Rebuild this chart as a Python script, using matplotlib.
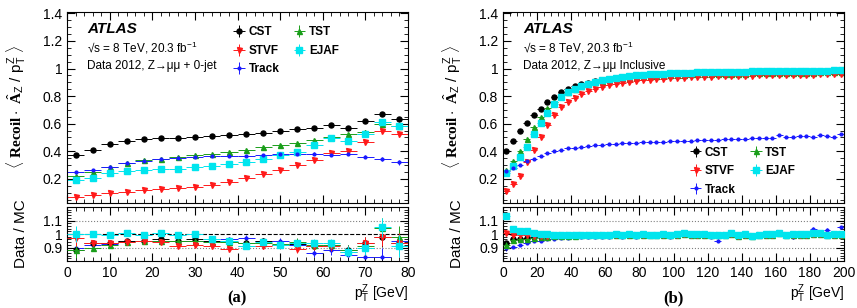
import numpy as np
import matplotlib.pyplot as plt
from matplotlib.ticker import MultipleLocator

plt.rcParams['font.family'] = ['Liberation Sans', 'DejaVu Sans']
plt.rcParams['mathtext.fontset'] = 'custom'
plt.rcParams['mathtext.rm'] = 'Liberation Sans'
plt.rcParams['mathtext.sf'] = 'Liberation Sans'
plt.rcParams['mathtext.it'] = 'Liberation Sans'
plt.rcParams['mathtext.bf'] = 'Liberation Serif:bold'

# ---- panel (a): Z->mumu + 0-jet, 4 GeV bins ----
pt_a = np.arange(2, 80, 4)
cst_a = [0.37, 0.41, 0.45, 0.475, 0.487, 0.497, 0.499, 0.505, 0.508, 0.516,
         0.528, 0.533, 0.546, 0.558, 0.57, 0.587, 0.57, 0.62, 0.67, 0.632]
tst_a = [0.22, 0.25, 0.285, 0.315, 0.335, 0.345, 0.358, 0.37, 0.382, 0.393,
         0.41, 0.428, 0.445, 0.46, 0.482, 0.503, 0.522, 0.54, 0.6, 0.585]
stvf_a = [0.067, 0.08, 0.096, 0.108, 0.116, 0.123, 0.133, 0.142, 0.159, 0.178,
          0.207, 0.236, 0.267, 0.299, 0.337, 0.39, 0.4, 0.465, 0.545, 0.522]
ejaf_a = [0.195, 0.207, 0.239, 0.255, 0.265, 0.272, 0.275, 0.287, 0.294, 0.306,
          0.32, 0.345, 0.376, 0.398, 0.443, 0.496, 0.475, 0.525, 0.615, 0.58]
track_a = [0.248, 0.263, 0.287, 0.316, 0.328, 0.342, 0.352, 0.357, 0.366, 0.369,
           0.369, 0.373, 0.381, 0.381, 0.383, 0.376, 0.381, 0.361, 0.347, 0.32]
err_a = [0.006, 0.004, 0.004, 0.004, 0.004, 0.004, 0.005, 0.005, 0.005, 0.006,
         0.006, 0.007, 0.007, 0.008, 0.009, 0.01, 0.011, 0.013, 0.015, 0.017]

cst_ra = [0.88, 0.93, 0.935, 0.945, 0.95, 0.96, 0.945, 0.96, 0.945, 0.94,
          0.93, 0.95, 0.92, 0.925, 0.91, 0.92, 0.88, 0.93, 0.975, 0.93]
tst_ra = [0.88, 0.895, 0.92, 0.94, 0.95, 0.95, 0.945, 0.95, 0.94, 0.94,
          0.93, 0.93, 0.925, 0.94, 0.915, 0.92, 0.88, 0.91, 1.045, 0.98]
stvf_ra = [0.97, 0.93, 0.93, 0.94, 0.945, 0.94, 0.91, 0.92, 0.91, 0.89,
           0.91, 0.91, 0.915, 0.89, 0.91, 0.91, 0.87, 0.93, 0.98, 0.93]
ejaf_ra = [1.0, 1.0, 0.995, 1.007, 0.995, 1.01, 0.99, 1.0, 0.96, 0.945,
           0.91, 0.94, 0.92, 0.93, 0.935, 0.93, 0.87, 0.895, 1.05, 0.91]
track_ra = [0.895, 0.92, 0.925, 0.945, 0.95, 0.95, 0.95, 0.945, 0.95, 0.96,
            0.97, 0.95, 0.945, 0.92, 0.86, 0.88, 0.845, 0.83, 0.83, 0.95]
rerr_a = [0.06, 0.02, 0.015, 0.012, 0.012, 0.012, 0.014, 0.015, 0.016, 0.018,
          0.02, 0.022, 0.025, 0.028, 0.03, 0.035, 0.04, 0.05, 0.07, 0.08]

# ---- panel (b): Z->mumu inclusive, 4 GeV bins ----
pt_b = np.arange(2, 200, 4)
cst_b = [0.405, 0.475, 0.545, 0.605, 0.66, 0.71, 0.757, 0.795, 0.83, 0.853,
         0.87, 0.885, 0.898, 0.908, 0.917, 0.925, 0.93, 0.935, 0.94, 0.943,
         0.946, 0.949, 0.951, 0.953, 0.955, 0.957, 0.958, 0.959, 0.96, 0.961,
         0.962, 0.963, 0.964, 0.965, 0.965, 0.966, 0.967, 0.968, 0.968, 0.969,
         0.97, 0.97, 0.971, 0.971, 0.972, 0.972, 0.973, 0.973, 0.974, 0.975]
tst_b = [0.265, 0.327, 0.404, 0.49, 0.573, 0.648, 0.713, 0.76, 0.802, 0.83,
         0.855, 0.872, 0.887, 0.9, 0.91, 0.918, 0.925, 0.93, 0.935, 0.94,
         0.943, 0.946, 0.948, 0.95, 0.952, 0.954, 0.955, 0.957, 0.958, 0.959,
         0.96, 0.961, 0.962, 0.963, 0.964, 0.964, 0.965, 0.966, 0.967, 0.967,
         0.968, 0.969, 0.97, 0.97, 0.971, 0.971, 0.972, 0.972, 0.973, 0.973]
stvf_b = [0.11, 0.16, 0.22, 0.32, 0.41, 0.5, 0.59, 0.66, 0.72, 0.76,
          0.79, 0.815, 0.838, 0.855, 0.868, 0.878, 0.888, 0.896, 0.903, 0.909,
          0.914, 0.918, 0.922, 0.926, 0.929, 0.932, 0.934, 0.936, 0.938, 0.94,
          0.942, 0.943, 0.944, 0.946, 0.947, 0.948, 0.949, 0.95, 0.951, 0.952,
          0.953, 0.953, 0.954, 0.955, 0.955, 0.956, 0.957, 0.957, 0.958, 0.958]
ejaf_b = [0.243, 0.296, 0.356, 0.431, 0.522, 0.605, 0.681, 0.742, 0.793, 0.829,
          0.853, 0.874, 0.889, 0.903, 0.915, 0.925, 0.933, 0.94, 0.946, 0.951,
          0.955, 0.958, 0.961, 0.964, 0.966, 0.968, 0.969, 0.971, 0.972, 0.973,
          0.974, 0.975, 0.976, 0.977, 0.977, 0.978, 0.979, 0.98, 0.98, 0.981,
          0.982, 0.982, 0.983, 0.983, 0.984, 0.984, 0.985, 0.985, 0.986, 0.986]
track_b = [0.26, 0.28, 0.303, 0.327, 0.347, 0.368, 0.388, 0.4, 0.412, 0.421,
           0.427, 0.434, 0.44, 0.445, 0.449, 0.453, 0.456, 0.458, 0.461, 0.463,
           0.465, 0.466, 0.468, 0.47, 0.472, 0.474, 0.476, 0.478, 0.48, 0.482,
           0.484, 0.485, 0.486, 0.488, 0.49, 0.491, 0.493, 0.495, 0.497, 0.499,
           0.516, 0.505, 0.506, 0.508, 0.51, 0.5, 0.516, 0.508, 0.502, 0.528]

cst_rb = [0.93, 0.96, 0.965, 0.97, 0.975, 0.98, 0.982, 0.985, 0.985, 0.985,
          0.987, 0.99, 0.99, 0.99, 0.992, 0.99, 0.995, 0.99, 0.995, 0.99,
          0.995, 0.99, 0.99, 0.995, 0.99, 0.995, 1.0, 0.995, 0.995, 0.995,
          0.99, 0.99, 0.99, 1.0, 0.985, 0.995, 0.985, 0.99, 0.995, 0.995,
          1.01, 0.99, 0.995, 0.995, 0.995, 1.0, 1.0, 0.99, 0.995, 0.995]
tst_rb = [0.92, 0.955, 0.96, 0.965, 0.972, 0.978, 0.98, 0.983, 0.985, 0.985,
          0.987, 0.99, 0.99, 0.99, 0.99, 0.99, 0.995, 0.99, 0.995, 0.99,
          0.995, 0.99, 0.99, 0.995, 0.99, 0.995, 1.0, 0.995, 0.995, 0.995,
          0.99, 0.99, 0.99, 1.0, 0.985, 0.995, 0.985, 0.99, 0.995, 0.995,
          1.01, 0.99, 0.995, 0.995, 0.995, 1.0, 1.0, 0.99, 0.995, 0.995]
stvf_rb = [1.01, 0.995, 0.99, 0.99, 0.988, 0.988, 0.988, 0.99, 0.99, 0.99,
           0.99, 0.99, 0.99, 0.992, 0.992, 0.99, 0.995, 0.99, 0.995, 0.99,
           0.995, 0.99, 0.99, 0.995, 0.99, 0.995, 1.0, 0.995, 0.995, 0.995,
           0.99, 0.99, 0.99, 1.0, 0.985, 0.995, 0.985, 0.99, 0.995, 0.995,
           1.01, 0.99, 0.995, 0.995, 0.995, 1.0, 1.0, 0.99, 0.995, 0.995]
ejaf_rb = [1.13, 1.04, 1.02, 1.02, 1.01, 1.0, 1.0, 0.995, 0.99, 0.99,
           0.99, 0.99, 0.99, 0.995, 0.995, 0.99, 1.0, 0.995, 1.0, 0.995,
           1.0, 0.995, 0.99, 1.0, 0.995, 1.0, 1.005, 1.0, 1.0, 1.0,
           0.995, 0.995, 0.995, 1.005, 0.99, 1.0, 0.985, 0.995, 1.0, 1.0,
           1.01, 0.995, 1.0, 1.0, 1.0, 1.005, 1.005, 0.995, 1.0, 0.998]
track_rb = [0.895, 0.905, 0.915, 0.93, 0.945, 0.95, 0.96, 0.965, 0.97, 0.97,
            0.975, 0.975, 0.975, 0.98, 0.98, 0.975, 0.99, 0.975, 0.99, 0.98,
            0.99, 0.985, 0.985, 0.99, 0.98, 0.99, 1.005, 0.995, 0.99, 0.985,
            0.98, 0.95, 0.985, 1.0, 0.985, 0.99, 0.975, 0.99, 0.995, 0.99,
            1.015, 0.985, 0.975, 0.99, 1.0, 1.04, 0.995, 1.03, 1.0, 1.05]

series = [
    ('CST', 'black', 'o', 3.6),
    ('TST', '#1a9e1a', '^', 3.6),
    ('STVF', '#ff1a1a', 'v', 3.6),
    ('EJAF', '#00e5ee', 's', 4.0),
    ('Track', '#1a1aff', 'o', 2.0),
]

W, H = 857, 308
fig = plt.figure(figsize=(W / 100, H / 100), dpi=100)


def style(ax, xmax, xmajor, xminor):
    ax.tick_params(which='both', direction='in', top=True, right=True,
                   labelsize=10)
    ax.tick_params(which='major', length=6)
    ax.tick_params(which='minor', length=3)
    ax.xaxis.set_major_locator(MultipleLocator(xmajor))
    ax.xaxis.set_minor_locator(MultipleLocator(xminor))
    ax.set_xlim(0, xmax)


def panel(x0, pt, vals, ratios, err, rerr, xmax, xmajor, xminor,
          channel, leg_pos, tag):
    top = fig.add_axes([x0 / W, 1 - 203 / H, 341 / W, 191 / H])
    bot = fig.add_axes([x0 / W, 1 - 261 / H, 341 / W, 54 / H])
    handles = []
    for k, ((name, c, m, ms), v, r) in enumerate(zip(series, vals, ratios)):
        h = top.errorbar(pt, v, xerr=2, yerr=err, fmt=m, color=c, ms=ms,
                         lw=0.7, label=name, capsize=0)
        handles.append(h)
        # track ratio sits underneath the calorimeter-based ones
        bot.errorbar(pt, r, xerr=2, yerr=rerr, fmt=m, color=c, ms=ms,
                     lw=0.7, capsize=0, zorder=1.5 if name == 'Track' else 2 + k)
    style(top, xmax, xmajor, xminor)
    top.set_ylim(0.025, 1.41)
    top.yaxis.set_minor_locator(MultipleLocator(0.05))
    top.set_yticks([0.2, 0.4, 0.6, 0.8, 1.0, 1.2, 1.4])
    top.set_yticklabels(['0.2', '0.4', '0.6', '0.8', '1', '1.2', '1.4'])
    top.tick_params(labelbottom=False)
    top.set_ylabel(r'$\langle\ \mathbf{Recoil}\cdot\ \hat{\mathbf{A}}_{\mathrm{Z}}'
                   r'\ /\ \mathrm{p}_{\mathrm{T}}^{\mathrm{Z}}\ \rangle$',
                   fontsize=11)
    top.yaxis.set_label_coords(-0.115, 0.5)

    top.text(0.06, 0.89, 'ATLAS', transform=top.transAxes, fontsize=11,
             fontweight='bold', style='italic')
    top.text(0.06, 0.79, '√s = 8 TeV, 20.3 fb$^{-1}$', transform=top.transAxes,
             fontsize=8.5)
    top.text(0.06, 0.70, 'Data 2012, Z→μμ ' + channel,
             transform=top.transAxes, fontsize=8.5)
    # row-wise order: CST TST / STVF EJAF / Track
    order = [0, 2, 4, 1, 3]
    top.legend([handles[i] for i in order], [series[i][0] for i in order],
               loc='upper left', bbox_to_anchor=leg_pos, ncol=2,
               frameon=False, handlelength=1.2, handletextpad=0.2,
               columnspacing=1.1, labelspacing=0.55, borderaxespad=0,
               prop={'weight': 'bold', 'size': 8.5})

    style(bot, xmax, xmajor, xminor)
    bot.set_ylim(0.8, 1.2)
    bot.set_yticks([0.9, 1.0, 1.1])
    bot.set_yticklabels(['0.9', '1', '1.1'])
    bot.yaxis.set_minor_locator(MultipleLocator(0.02))
    bot.axhline(1.0, color='black', ls='--', lw=0.8, zorder=0)
    bot.axhline(1.1, color='grey', ls=':', lw=0.8, zorder=0)
    bot.axhline(0.9, color='grey', ls=':', lw=0.8, zorder=0)
    bot.set_ylabel('Data / MC', fontsize=11)
    bot.yaxis.set_label_coords(-0.115, 0.5)
    bot.set_xlabel(r'p$_{\mathrm{T}}^{\mathrm{Z}}$ [GeV]', fontsize=10,
                   loc='right', labelpad=2)
    fig.text((x0 + 170) / W, 1 - 298 / H, tag, ha='center', va='center',
             fontsize=12, fontweight='bold', family='Liberation Serif')


panel(67, pt_a, [cst_a, tst_a, stvf_a, ejaf_a, track_a],
      [cst_ra, tst_ra, stvf_ra, ejaf_ra, track_ra], err_a, rerr_a,
      80, 10, 2, '+ 0-jet', (0.47, 0.95), '(a)')

err_b = [0.004] * 30 + [0.006] * 20
rerr_b = [0.02] + [0.006] * 29 + [0.012] * 20
panel(503, pt_b, [cst_b, tst_b, stvf_b, ejaf_b, track_b],
      [cst_rb, tst_rb, stvf_rb, ejaf_rb, track_rb], err_b, rerr_b,
      200, 20, 4, 'Inclusive', (0.53, 0.32), '(b)')

fig.savefig('out.png', dpi=100)
